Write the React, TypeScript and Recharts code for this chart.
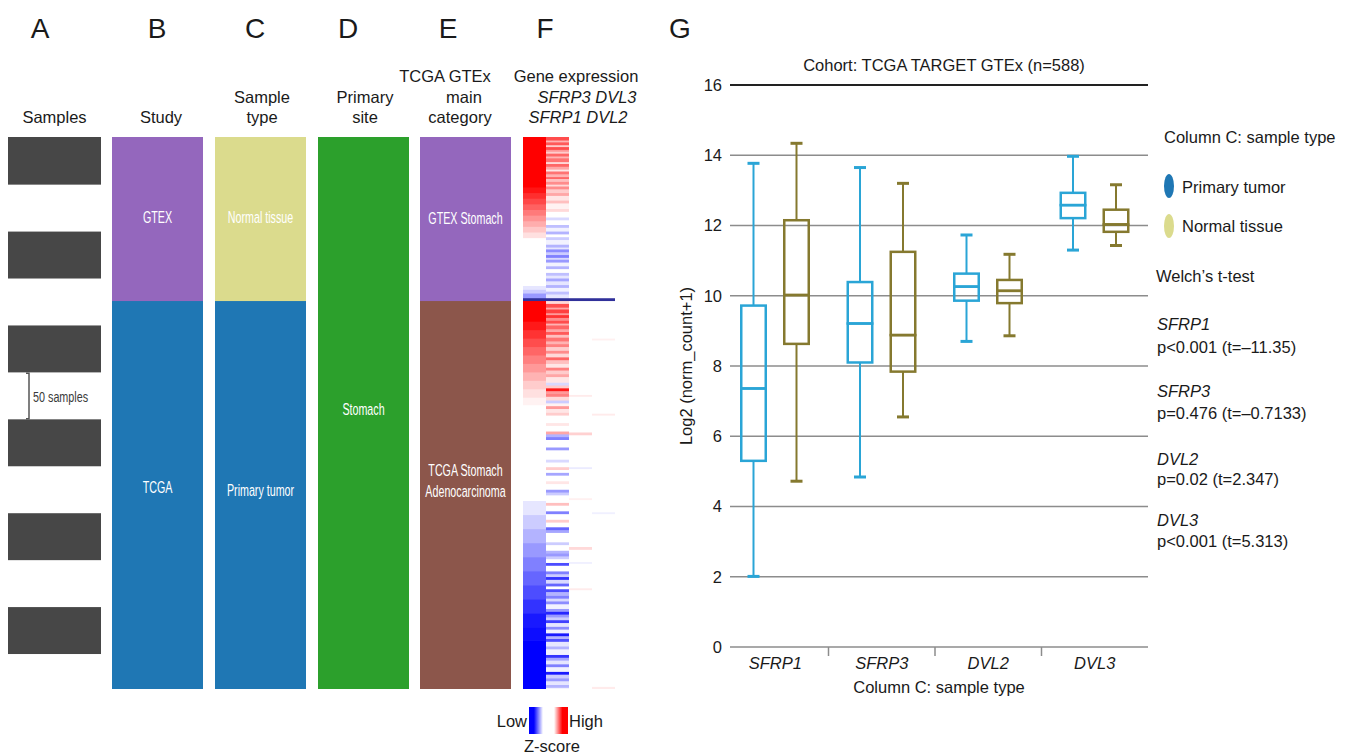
import { BarChart, Bar, XAxis, YAxis, ComposedChart, CartesianGrid, ReferenceLine } from "recharts";

// ---------- panels A–E: sample annotation columns ----------
const TOTAL_SAMPLES = 588;
const sampleBlocks = [50, 50, 50, 50, 50, 50, 50, 50, 50, 50, 50, 38];
const studies = ["GTEX", "TCGA"];
const studyCounts = [174, 414];
const sampleTypes = ["Normal tissue", "Primary tumor"];
const primarySites = ["Stomach"];
const primarySiteCounts = [588];
const mainCategories = ["GTEX Stomach", "TCGA Stomach Adenocarcinoma"];

// ---------- panel F: heatmap runs [samples, z-score], GTEx block then TCGA block ----------
const sfrp1Gtex: [number, number][] = [
  [53, 1], [6, 0.92], [6, 0.82], [6, 0.72], [6, 0.62], [6, 0.52], [6, 0.42], [6, 0.32], [6, 0.22], [6, 0.12],
  [51, 0], [4, -0.1], [4, -0.2], [5, -0.4], [3, -1.2],
];
const sfrp1Tcga: [number, number][] = [
  [22, 1], [9, 0.9], [9, 0.8], [9, 0.7], [9, 0.6], [9, 0.5], [9, 0.4], [9, 0.3], [9, 0.2], [9, 0.12], [8, 0.05],
  [102, 0], [15, -0.1], [15, -0.2], [15, -0.3], [15, -0.4], [15, -0.5], [15, -0.6], [15, -0.7], [15, -0.8],
  [15, -0.9], [14, -0.95], [52, -1],
];
const sfrp3Gtex: [number, number][] = [
  [3, 0.7], [2, 0.3], [3, 0.65], [2, 0.2], [3, 0.7], [2, 0.4], [2, 0.2], [3, 0.6], [2, 0.3], [4, 0.55],
  [2, 0.15], [3, 0.6], [3, 0.35], [2, 0.1], [3, 0.55], [3, 0.3], [2, 0.6], [3, 0.25], [3, 0.45], [2, 0.15],
  [3, 0.45], [4, 0.2], [3, 0.35], [5, 0.1], [3, 0.25], [6, 0.05], [3, 0.15], [6, 0], [3, -0.15], [5, 0],
  [3, -0.25], [4, -0.05], [3, -0.3], [3, 0], [3, -0.2], [5, -0.05], [3, -0.3], [2, -0.1], [3, -0.45], [3, -0.2],
  [3, -0.5], [2, -0.15], [3, -0.4], [4, -0.05], [3, -0.3], [4, 0], [3, -0.25], [3, -0.1], [3, -0.35], [4, -0.1],
  [3, -0.3], [4, -0.05], [3, -0.25], [4, -0.1], [3, -1.2],
];
const sfrp3Tcga: [number, number][] = [
  [3, 0.15], [4, 0.7], [2, 0.35], [4, 0.75], [2, 0.4], [3, 0.8], [3, 0.45], [3, 0.7], [2, 0.3], [4, 0.6],
  [3, 0.35], [3, 0.65], [3, 0.25], [4, 0.55], [3, 0.3], [3, 0.5], [4, 0.2], [3, 0.45], [4, 0.15], [3, 0.6],
  [4, 0.25], [4, 0.1], [3, 0.5], [4, 0.2], [3, 0.35], [6, 0.1], [3, -0.15], [3, 0.2], [3, 0.9], [3, 0.4],
  [3, 0.5], [4, 0.15], [3, -0.2], [3, 0.05], [3, 0.4], [4, 0.1], [3, 0.2], [8, 0], [3, 0.1], [6, 0],
  [3, 0.35], [3, -0.3], [3, -0.5], [8, 0], [3, -0.4], [10, 0], [3, -0.15], [5, 0], [3, 0.2], [3, 0],
  [3, -0.35], [6, 0], [3, 0.1], [6, 0], [3, -0.4], [3, -0.2], [8, 0], [3, 0.25], [6, 0], [3, -0.5],
  [6, 0], [3, 0.2], [5, 0], [3, -0.6], [3, -0.35], [10, 0], [3, -0.2], [6, 0], [3, -0.3], [3, -0.4],
  [3, -0.2], [4, 0], [3, -0.7], [6, 0], [3, -0.5], [3, -0.2], [3, -0.8], [4, -0.15], [3, -0.6], [3, 0],
  [3, -0.7], [4, -0.3], [3, -0.5], [3, -0.15], [3, -0.45], [5, -0.05], [3, -0.4], [3, -0.85], [3, -0.4], [3, -0.2],
  [3, -0.75], [4, -0.1], [3, -0.45], [4, -0.05], [3, -0.9], [3, -0.3], [3, -0.7], [5, -0.1], [3, -0.3], [6, -0.05],
  [3, -0.8], [3, -0.35], [4, -0.1], [3, -0.5], [5, -0.05], [3, -0.9], [4, -0.2], [3, -0.4], [4, -0.1], [3, -0.3],
  [2, -0.05],
];
const dvl2Gtex: [number, number][] = [[171, 0], [3, -1.2]];
const dvl2Tcga: [number, number][] = [
  [100, 0], [2, 0.08], [38, 0], [3, 0.18], [34, 0], [2, -0.08], [31, 0], [2, 0.06], [50, 0], [3, 0.15],
  [13, 0], [2, -0.06], [26, 0], [2, 0.08], [106, 0],
];
const dvl3Gtex: [number, number][] = [[171, 0], [3, -1.2]];
const dvl3Tcga: [number, number][] = [[40, 0], [2, 0.06], [78, 0], [2, 0.08], [103, 0], [2, -0.06], [184, 0], [3, 0.08]];

// ---------- panel G: box plot ----------
const genes = ["SFRP1", "SFRP3", "DVL2", "DVL3"];
const tumorMin = [2.01, 4.84, 8.7, 11.3];
const tumorQ1 = [5.3, 8.1, 9.86, 12.21];
const tumorMedian = [7.36, 9.21, 10.26, 12.58];
const tumorQ3 = [9.72, 10.39, 10.63, 12.93];
const tumorMax = [13.77, 13.65, 11.73, 13.97];
const normalMin = [4.72, 6.55, 8.86, 11.43];
const normalQ1 = [8.63, 7.84, 9.79, 11.82];
const normalMedian = [10.02, 8.88, 10.14, 12.03];
const normalQ3 = [12.15, 11.25, 10.45, 12.45];
const normalMax = [14.34, 13.2, 11.18, 13.16];
const yTicks = [0, 2, 4, 6, 8, 10, 12, 14, 16];
const welchTests = [
  { gene: "SFRP1", text: "p<0.001 (t=–11.35)" },
  { gene: "SFRP3", text: "p=0.476 (t=–0.7133)" },
  { gene: "DVL2", text: "p=0.02 (t=2.347)" },
  { gene: "DVL3", text: "p<0.001 (t=5.313)" },
];

// ---------- styles ----------
const FONT = "'Liberation Sans', Arial, Helvetica, sans-serif";
const INK = "#1a1a1a";
const STRIP_TOP = 137;
const STRIP_H = 552;
const SAMPLE_GRAY = "#474747";
const FILL: Record<string, string> = {
  GTEX: "#9467bd",
  TCGA: "#1f77b4",
  "Normal tissue": "#dbdb8d",
  "Primary tumor": "#1f77b4",
  Stomach: "#2ca02c",
  "GTEX Stomach": "#9467bd",
  "TCGA Stomach Adenocarcinoma": "#8c564b",
};
const STRIP_TEXT: Record<string, { lines: string[]; dy: number }> = {
  GTEX: { lines: ["GTEX"], dy: -2 },
  TCGA: { lines: ["TCGA"], dy: -8 },
  "Normal tissue": { lines: ["Normal tissue"], dy: -2 },
  "Primary tumor": { lines: ["Primary tumor"], dy: -5 },
  Stomach: { lines: ["Stomach"], dy: -4 },
  "GTEX Stomach": { lines: ["GTEX Stomach"], dy: -1 },
  "TCGA Stomach Adenocarcinoma": { lines: ["TCGA Stomach", "Adenocarcinoma"], dy: -14 },
};
// horizontal squeeze: the in-column labels of the original are strongly condensed
const SQUEEZE = 0.63;
const TUMOR = "#2aa5d6";
const NORMAL = "#85792f";
const BAND = 106.5;

function zColor(z: number) {
  if (z <= -1.1) return "#30309a";
  const t = Math.min(Math.abs(z), 1);
  const c = Math.round(255 * (1 - t));
  return z >= 0 ? `rgb(255,${c},${c})` : `rgb(${c},${c},255)`;
}

type StripRun = { n: number; fill: string; label?: string; note?: string };

function Segment(p: any) {
  const { x, y, width, height, run } = p;
  const top = Math.min(y, y + height);
  const h = Math.abs(height);
  const spec = run.label ? STRIP_TEXT[run.label] : null;
  const cx = x + width / 2;
  return (
    <g>
      {/* small overlap hides anti-aliasing seams between neighbouring runs */}
      <rect x={x} y={top} width={width} height={h + 0.7} fill={run.fill} />
      {spec &&
        spec.lines.map((line: string, i: number) => (
          <text
            key={i}
            transform={`translate(${cx},${top + h / 2 + spec.dy + (i - (spec.lines.length - 1) / 2) * 21}) scale(${SQUEEZE},1)`}
            textAnchor="middle"
            dominantBaseline="central"
            fontFamily={FONT}
            fontSize={17}
            fill="#fff"
          >
            {line}
          </text>
        ))}
      {run.note && (
        <g>
          <path
            d={`M${x + 18},${top + 1.5} L${x + 21},${top + 1.5} L${x + 21},${top + h} L${x + 18},${top + h}`}
            fill="none"
            stroke="#555"
            strokeWidth={1.5}
          />
          <text
            transform={`translate(${x + 25},${top + h / 2 + 2}) scale(0.72,1)`}
            dominantBaseline="central"
            fontFamily={FONT}
            fontSize={15}
            fill="#3a3a3a"
          >
            {run.note}
          </text>
        </g>
      )}
    </g>
  );
}

function Strip({ runs, left, width }: { runs: StripRun[]; left: number; width: number }) {
  // stack from the bottom so that the first run ends up on top
  const order = [...runs].reverse();
  const row: Record<string, string | number> = { col: "x" };
  order.forEach((r, i) => {
    row[`s${i}`] = r.n;
  });
  return (
    <div style={{ position: "absolute", left, top: STRIP_TOP }}>
      <BarChart
        width={width}
        height={STRIP_H}
        data={[row]}
        margin={{ top: 0, right: 0, bottom: 0, left: 0 }}
        barCategoryGap={0}
        barGap={0}
      >
        <XAxis dataKey="col" hide />
        <YAxis hide domain={[0, TOTAL_SAMPLES]} allowDataOverflow />
        {order.map((r, i) => (
          <Bar
            key={i}
            dataKey={`s${i}`}
            stackId="s"
            fill={r.fill}
            isAnimationActive={false}
            shape={(p: any) => <Segment {...p} run={r} />}
          />
        ))}
      </BarChart>
    </div>
  );
}

const sampleRuns: StripRun[] = sampleBlocks.map((n, i) => ({
  n,
  fill: i % 2 === 0 ? SAMPLE_GRAY : "#fff",
  note: i === 5 ? "50 samples" : undefined,
}));
const studyRuns: StripRun[] = studies.map((s, i) => ({ n: studyCounts[i], fill: FILL[s], label: s }));
const typeRuns: StripRun[] = sampleTypes.map((s, i) => ({ n: studyCounts[i], fill: FILL[s], label: s }));
const siteRuns: StripRun[] = primarySites.map((s, i) => ({ n: primarySiteCounts[i], fill: FILL[s], label: s }));
const categoryRuns: StripRun[] = mainCategories.map((s, i) => ({ n: studyCounts[i], fill: FILL[s], label: s }));
const heatColumns = [
  [...sfrp1Gtex, ...sfrp1Tcga],
  [...sfrp3Gtex, ...sfrp3Tcga],
  [...dvl2Gtex, ...dvl2Tcga],
  [...dvl3Gtex, ...dvl3Tcga],
].map((runs) => runs.map(([n, z]) => ({ n, fill: zColor(z) })));

const boxRows = genes.map((gene, i) => ({
  gene,
  tBase: tumorMin[i],
  tLow: tumorQ1[i] - tumorMin[i],
  tBoxLo: tumorMedian[i] - tumorQ1[i],
  tBoxHi: tumorQ3[i] - tumorMedian[i],
  tHigh: tumorMax[i] - tumorQ3[i],
  nBase: normalMin[i],
  nLow: normalQ1[i] - normalMin[i],
  nBoxLo: normalMedian[i] - normalQ1[i],
  nBoxHi: normalQ3[i] - normalMedian[i],
  nHigh: normalMax[i] - normalQ3[i],
}));

const span = (p: any) => ({ top: Math.min(p.y, p.y + p.height), bot: Math.max(p.y, p.y + p.height) });

const lowWhisker = (color: string) => (p: any) => {
  const cx = p.x + p.width / 2;
  const { top, bot } = span(p);
  return (
    <g>
      <line x1={cx} x2={cx} y1={top} y2={bot} stroke={color} strokeWidth={2} />
      <line x1={cx - 6} x2={cx + 6} y1={bot} y2={bot} stroke={color} strokeWidth={3} />
    </g>
  );
};
const highWhisker = (color: string) => (p: any) => {
  const cx = p.x + p.width / 2;
  const { top, bot } = span(p);
  return (
    <g>
      <line x1={cx} x2={cx} y1={top} y2={bot} stroke={color} strokeWidth={2} />
      <line x1={cx - 6} x2={cx + 6} y1={top} y2={top} stroke={color} strokeWidth={3} />
    </g>
  );
};
const boxPart = (color: string) => (p: any) => {
  const { top, bot } = span(p);
  return (
    <rect x={p.x + 1.25} y={top} width={p.width - 2.5} height={bot - top} fill="none" stroke={color} strokeWidth={2.5} />
  );
};
const nothing = () => <g />;

function GeneTick(props: any) {
  const { x, y, payload, index } = props;
  return (
    <g>
      <text x={x} y={y + 8} textAnchor="middle" dominantBaseline="central" fontStyle="italic" fontSize={16.5} fill={INK}>
        {payload.value}
      </text>
      {index < genes.length - 1 && (
        <line x1={x + BAND / 2} x2={x + BAND / 2} y1={y - 8} y2={y + 1} stroke="#8c8c8c" strokeWidth={1.5} />
      )}
    </g>
  );
}

function Txt({ x, y, children, size = 16.5, anchor = "middle", italic = false }: any) {
  return (
    <text
      x={x}
      y={y}
      fontSize={size}
      textAnchor={anchor}
      dominantBaseline="central"
      fontStyle={italic ? "italic" : undefined}
      fill={INK}
    >
      {children}
    </text>
  );
}

export default function App() {
  return (
    <div
      style={{
        position: "absolute",
        left: 0,
        top: 0,
        width: 1349,
        height: 755,
        background: "#fff",
        fontFamily: FONT,
        overflow: "hidden",
      }}
    >
      <Strip runs={sampleRuns} left={8} width={93} />
      <Strip runs={studyRuns} left={112} width={91} />
      <Strip runs={typeRuns} left={215} width={91} />
      <Strip runs={siteRuns} left={318} width={91} />
      <Strip runs={categoryRuns} left={420} width={91} />
      {heatColumns.map((runs, i) => (
        <Strip key={i} runs={runs} left={523 + i * 23} width={23} />
      ))}

      <div style={{ position: "absolute", left: 660, top: 40 }}>
        <ComposedChart
          width={500}
          height={670}
          data={boxRows}
          margin={{ top: 45, right: 12, bottom: 33, left: 10 }}
          barSize={27}
          barGap={16}
        >
          <CartesianGrid vertical={false} stroke="#8c8c8c" strokeWidth={1.5} />
          <XAxis
            dataKey="gene"
            axisLine={false}
            tickLine={false}
            interval={0}
            height={30}
            padding={{ left: -8, right: 0 }}
            tick={(p: any) => <GeneTick {...p} />}
            label={{ value: "Column C: sample type", position: "bottom", offset: 4, fontSize: 16.5, fill: INK }}
          />
          <YAxis
            domain={[0, 16]}
            ticks={yTicks}
            allowDataOverflow
            width={60}
            axisLine={false}
            tickLine={false}
            tick={{ fontSize: 16.5, fill: INK }}
            label={{
              value: "Log2 (norm_count+1)",
              angle: -90,
              position: "insideLeft",
              offset: 16,
              fontSize: 16.5,
              fill: INK,
              style: { textAnchor: "middle" },
            }}
          />
          <ReferenceLine y={16} stroke="#222" strokeWidth={2} />
          <Bar dataKey="tBase" stackId="t" isAnimationActive={false} shape={nothing} />
          <Bar dataKey="tLow" stackId="t" isAnimationActive={false} shape={lowWhisker(TUMOR)} />
          <Bar dataKey="tBoxLo" stackId="t" isAnimationActive={false} shape={boxPart(TUMOR)} />
          <Bar dataKey="tBoxHi" stackId="t" isAnimationActive={false} shape={boxPart(TUMOR)} />
          <Bar dataKey="tHigh" stackId="t" isAnimationActive={false} shape={highWhisker(TUMOR)} />
          <Bar dataKey="nBase" stackId="n" isAnimationActive={false} shape={nothing} />
          <Bar dataKey="nLow" stackId="n" isAnimationActive={false} shape={lowWhisker(NORMAL)} />
          <Bar dataKey="nBoxLo" stackId="n" isAnimationActive={false} shape={boxPart(NORMAL)} />
          <Bar dataKey="nBoxHi" stackId="n" isAnimationActive={false} shape={boxPart(NORMAL)} />
          <Bar dataKey="nHigh" stackId="n" isAnimationActive={false} shape={highWhisker(NORMAL)} />
        </ComposedChart>
      </div>

      <svg
        width={1349}
        height={755}
        style={{ position: "absolute", left: 0, top: 0, pointerEvents: "none", fontFamily: FONT }}
      >
        <defs>
          <linearGradient id="zLow" x1="0" x2="1" y1="0" y2="0">
            <stop offset="0" stopColor="#0000ff" />
            <stop offset="0.35" stopColor="#0000ff" />
            <stop offset="1" stopColor="#ffffff" />
          </linearGradient>
          <linearGradient id="zHigh" x1="0" x2="1" y1="0" y2="0">
            <stop offset="0" stopColor="#ffffff" />
            <stop offset="0.6" stopColor="#ff0000" />
            <stop offset="1" stopColor="#ff0000" />
          </linearGradient>
        </defs>

        {[
          ["A", 40],
          ["B", 157],
          ["C", 255],
          ["D", 348],
          ["E", 448],
          ["F", 545],
          ["G", 680],
        ].map(([l, x]) => (
          <Txt key={l as string} x={x} y={28} size={28}>
            {l}
          </Txt>
        ))}

        <Txt x={54.5} y={117}>Samples</Txt>
        <Txt x={161} y={117}>Study</Txt>
        <Txt x={262} y={97}>Sample</Txt>
        <Txt x={262} y={117}>type</Txt>
        <Txt x={365} y={97}>Primary</Txt>
        <Txt x={365} y={117}>site</Txt>
        <Txt x={445} y={76}>TCGA GTEx</Txt>
        <Txt x={464} y={97}>main</Txt>
        <Txt x={460} y={117}>category</Txt>
        <Txt x={576} y={76}>Gene expression</Txt>
        <Txt x={587} y={97} italic>SFRP3 DVL3</Txt>
        <Txt x={578} y={117} italic>SFRP1 DVL2</Txt>

        <rect x={529} y={707} width={14} height={27} fill="url(#zLow)" />
        <rect x={554} y={707} width={14} height={27} fill="url(#zHigh)" />
        <Txt x={527} y={721} anchor="end">Low</Txt>
        <Txt x={569} y={721} anchor="start">High</Txt>
        <Txt x={552} y={746}>Z-score</Txt>

        <Txt x={944} y={65}>Cohort: TCGA TARGET GTEx (n=588)</Txt>
        <Txt x={1164} y={137} anchor="start">Column C: sample type</Txt>
        <ellipse cx={1169} cy={186} rx={5} ry={12} fill="#1f77b4" />
        <Txt x={1182} y={187} anchor="start">Primary tumor</Txt>
        <ellipse cx={1169} cy={226} rx={5} ry={12} fill="#dbdb8d" />
        <Txt x={1182} y={226} anchor="start">Normal tissue</Txt>
        <Txt x={1156} y={276} anchor="start">Welch’s t-test</Txt>
        {welchTests.map((w, i) => (
          <g key={w.gene}>
            <Txt x={1157} y={[324, 391, 459, 520][i]} anchor="start" italic>
              {w.gene}
            </Txt>
            <Txt x={1157} y={[347, 413, 479, 541][i]} anchor="start">
              {w.text}
            </Txt>
          </g>
        ))}
      </svg>
    </div>
  );
}
